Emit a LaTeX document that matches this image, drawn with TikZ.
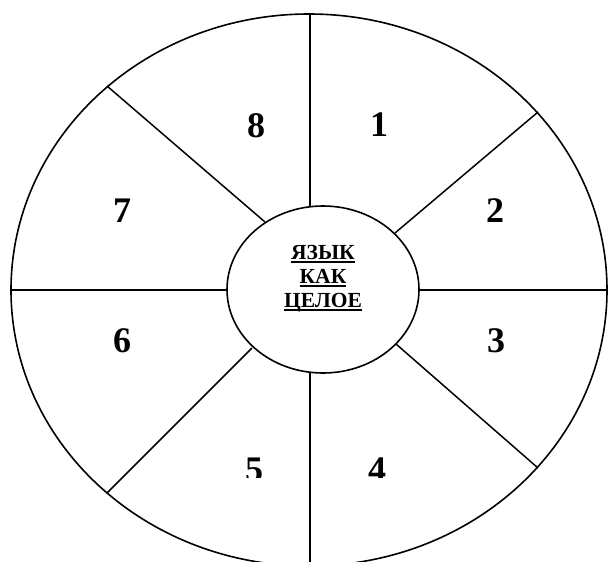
\documentclass[tikz,border=0pt]{standalone}
\usepackage{fontspec}
\setmainfont{Liberation Serif}
\newcommand\ulword[1]{\setbox0\hbox{#1}\rlap{\rule[-4.2pt]{\wd0}{1.8pt}}\box0}
\begin{document}
\begin{tikzpicture}[x=1pt,y=-1pt,
  sep/.style={line width=1.5pt,line cap=butt},
  rim/.style={line width=1.6pt},
  num/.style={font=\fontsize{36}{36}\selectfont\bfseries,anchor=base,inner sep=0pt},
  ctr/.style={font=\fontsize{21.5}{24}\selectfont\bfseries,anchor=base,inner sep=0pt}]
\useasboundingbox (0,0) rectangle (608,562);
\clip (0,0) rectangle (608,562);
% outer and inner ellipses
\draw[rim] (309,290) ellipse [x radius=298pt, y radius=276pt];
\draw[rim] (323,289.5) ellipse [x radius=96pt, y radius=83.5pt];
% separators
\coordinate (oT) at (310,14);   \coordinate (iT) at (310,206);
\coordinate (oB) at (310,566);  \coordinate (iB) at (310,373);
\coordinate (oL) at (11,290);   \coordinate (iL) at (227,290);
\coordinate (oR) at (608,290);  \coordinate (iR) at (419,290);
\coordinate (oUL) at (107,86);  \coordinate (iUL) at (265,222);
\coordinate (oUR) at (538,112); \coordinate (iUR) at (395,233);
\coordinate (oLL) at (107,493); \coordinate (iLL) at (252,348);
\coordinate (oLR) at (538,468); \coordinate (iLR) at (396,344);
\foreach \p in {T,B,L,R,UL,UR,LL,LR} \draw[sep] (o\p) -- (i\p);
% numbers
\node[num] (n1) at (379,136) {1};
\node[num] (n2) at (495,222) {2};
\node[num] (n3) at (496,352) {3};
\node[num] (n6) at (122,352) {6};
\node[num] (n7) at (122,222) {7};
\node[num] (n8) at (256,137) {8};
\begin{scope}
\clip (0,0) rectangle (608,477);
\node[num] (n4) at (377,481) {4};
\node[num] (n5) at (254,481) {5};
\end{scope}
% centre text
\node[ctr] (c1) at (323,259) {\ulword{ЯЗЫК}};
\node[ctr] (c2) at (323,283) {\ulword{КАК}};
\node[ctr] (c3) at (323,307) {\ulword{ЦЕЛОЕ}};
\end{tikzpicture}
\end{document}
